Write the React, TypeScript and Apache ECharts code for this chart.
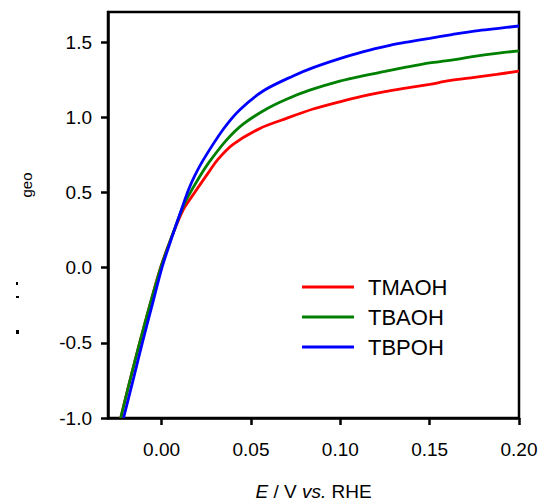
import React, { useEffect, useRef } from "react";
import * as echarts from "echarts";

const seriesNames = ["TMAOH", "TBAOH", "TBPOH"];
const seriesColors = ["#ff0000", "#008000", "#0000ff"];

const tmaoh: [number, number][] = [
  [-0.0229, -1.0], [-0.0177, -0.75], [-0.0123, -0.5], [-0.0066, -0.25], [-0.0006, 0.0],
  [0.0055, 0.2], [0.012, 0.383], [0.0185, 0.5], [0.0259, 0.627], [0.0315, 0.72],
  [0.04, 0.82], [0.055, 0.926], [0.0699, 0.993], [0.0848, 1.055], [0.0997, 1.103],
  [0.1125, 1.14], [0.125, 1.17], [0.1375, 1.195], [0.15, 1.219], [0.161, 1.243],
  [0.175, 1.265], [0.1875, 1.285], [0.2, 1.307],
];

const tbaoh: [number, number][] = [
  [-0.0229, -1.0], [-0.0177, -0.75], [-0.0123, -0.5], [-0.0066, -0.25], [-0.0005, 0.0],
  [0.0055, 0.2], [0.0118, 0.4], [0.0147, 0.471], [0.0205, 0.59], [0.0265, 0.7], [0.0364, 0.85],
  [0.0456, 0.955], [0.0587, 1.055], [0.0699, 1.12], [0.0829, 1.18], [0.0997, 1.24],
  [0.1125, 1.275], [0.125, 1.305], [0.1375, 1.335], [0.15, 1.362], [0.161, 1.378],
  [0.175, 1.405], [0.1875, 1.425], [0.2, 1.442],
];

const tbpoh: [number, number][] = [
  [-0.0213, -1.0], [-0.016, -0.75], [-0.0108, -0.5], [-0.0053, -0.25], [0.0002, 0.0],
  [0.0057, 0.2], [0.0115, 0.4], [0.015, 0.516], [0.0185, 0.61], [0.0235, 0.72],
  [0.0345, 0.92], [0.0438, 1.05], [0.0568, 1.175], [0.0736, 1.275],
  [0.0848, 1.33], [0.0997, 1.39], [0.1125, 1.435], [0.1277, 1.478], [0.1375, 1.5],
  [0.15, 1.525], [0.1625, 1.55], [0.176, 1.575], [0.1875, 1.59], [0.2, 1.607],
];

const xTicks = [0, 0.05, 0.1, 0.15, 0.2];

const FONT = "'Liberation Sans', Arial, sans-serif";

export default function App() {
  const ref = useRef<HTMLDivElement>(null);
  useEffect(() => {
    document.body.style.margin = "0";
    if (!ref.current) return;
    const chart = echarts.init(ref.current, undefined, { renderer: "svg" });
    const datasets = [tmaoh, tbaoh, tbpoh];
    chart.setOption({
      animation: false,
      backgroundColor: "#fff",
      grid: {
        left: 108,
        right: 21,
        top: 12,
        bottom: 84,
        show: true,
        borderColor: "#000",
        borderWidth: 2.5,
        backgroundColor: "transparent",
        containLabel: false,
        outerBoundsMode: "none",
      },
      legend: {
        orient: "vertical",
        left: 302,
        top: 276,
        icon: "rect",
        itemWidth: 52,
        itemHeight: 3,
        itemGap: 8,
        padding: 0,
        data: seriesNames,
        textStyle: {
          fontFamily: FONT,
          fontSize: 22,
          color: "#000",
          lineHeight: 22,
          padding: [0, 0, 0, 9],
        },
      },
      xAxis: {
        type: "value",
        min: -0.03,
        max: 0.2,
        name: "{i|E} / V {i|vs.} RHE",
        nameLocation: "middle",
        nameGap: 64,
        nameTextStyle: {
          fontFamily: FONT,
          fontSize: 19,
          color: "#000",
          rich: {
            i: { fontFamily: FONT, fontSize: 19, fontStyle: "italic", color: "#000" },
          },
        },
        axisLine: { show: true, onZero: false, lineStyle: { color: "#000", width: 2.5 } },
        axisTick: {
          show: true,
          inside: false,
          length: 7,
          lineStyle: { color: "#000", width: 2.5 },
          customValues: xTicks,
        },
        axisLabel: {
          fontFamily: FONT,
          fontSize: 19,
          color: "#000",
          margin: 22,
          customValues: xTicks,
          formatter: (v: number) => v.toFixed(2),
        },
        splitLine: { show: false },
      },
      yAxis: {
        type: "value",
        min: -1,
        max: 1.7,
        interval: 0.5,
        axisLine: { show: true, onZero: false, lineStyle: { color: "#000", width: 2.5 } },
        axisTick: {
          show: true,
          inside: false,
          length: 7,
          lineStyle: { color: "#000", width: 2.5 },
        },
        axisLabel: {
          fontFamily: FONT,
          fontSize: 19,
          color: "#000",
          margin: 16,
          showMaxLabel: false,
          formatter: (v: number) => (Math.abs(v - 1.7) < 1e-6 ? "" : v.toFixed(1)),
        },
        splitLine: { show: false },
      },
      graphic: [
        {
          type: "text",
          x: 26,
          y: 185,
          rotation: Math.PI / 2,
          style: {
            text: "geo",
            fontFamily: FONT,
            fontSize: 15,
            fill: "#000",
            align: "center",
            verticalAlign: "middle",
          },
        },
        { type: "rect", shape: { x: 16, y: 282, width: 2, height: 3 }, style: { fill: "#000" } },
        { type: "rect", shape: { x: 16, y: 296, width: 3, height: 2 }, style: { fill: "#000" } },
        { type: "rect", shape: { x: 16, y: 330, width: 3, height: 4 }, style: { fill: "#000" } },
      ],
      series: datasets.map((d, i) => ({
        name: seriesNames[i],
        type: "line",
        data: d,
        showSymbol: false,
        smooth: 0.3,
        color: seriesColors[i],
        lineStyle: { color: seriesColors[i], width: 2.8 },
        clip: true,
      })),
    });
    return () => chart.dispose();
  }, []);
  return <div ref={ref} style={{ width: 540, height: 502 }} />;
}
